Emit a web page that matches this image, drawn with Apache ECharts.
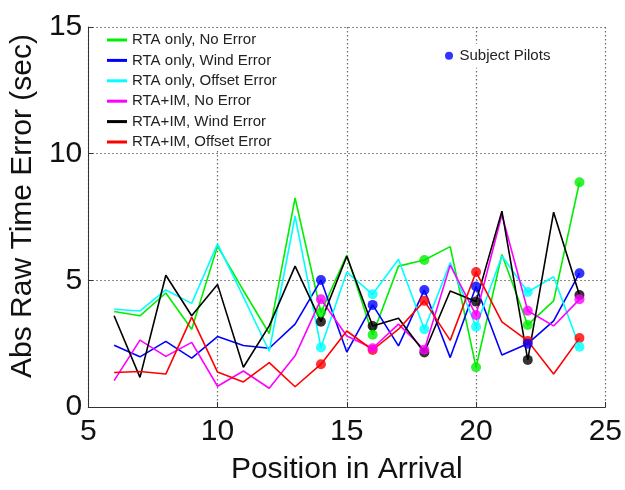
<!DOCTYPE html>
<html>
<head>
<meta charset="utf-8">
<script src="https://cdn.jsdelivr.net/npm/echarts@6/dist/echarts.min.js"></script>
<style>
html,body{margin:0;padding:0;background:#fff;}
#chart{width:625px;height:490px;}
</style>
</head>
<body>
<div id="chart"></div>
<script>
// Positions in arrival (x values)
var positions = [6, 7, 8, 9, 10, 11, 12, 13, 14, 15, 16, 17, 18, 19, 20, 21, 22, 23, 24];
// Positions flown by subject pilots (marked with dots)
var pilotPositions = [14, 16, 18, 20, 22, 24];

var seriesNames = [
  'RTA only, No Error',
  'RTA only, Wind Error',
  'RTA only, Offset Error',
  'RTA+IM, No Error',
  'RTA+IM, Wind Error',
  'RTA+IM, Offset Error'
];

var rtaNoError     = [3.77, 3.6, 4.5, 3.07, 6.35, 4.6, 2.9, 8.25, 3.73, 6.0, 2.85, 5.56, 5.8, 6.33, 1.57, 6.02, 3.24, 4.19, 8.87];
var rtaWindError   = [2.44, 1.98, 2.59, 1.93, 2.78, 2.43, 2.32, 3.27, 5.01, 2.17, 4.03, 2.41, 4.62, 1.95, 4.76, 2.05, 2.5, 3.4, 5.28];
var rtaOffsetError = [3.86, 3.79, 4.62, 4.09, 6.44, 4.35, 2.2, 7.53, 2.35, 5.32, 4.45, 5.83, 3.07, 5.7, 3.17, 5.96, 4.54, 5.14, 2.38];
var imNoError      = [1.04, 2.64, 2.0, 2.55, 0.82, 1.42, 0.74, 2.02, 4.25, 2.8, 2.32, 3.27, 2.26, 5.6, 3.63, 7.6, 3.8, 3.2, 4.25];
var imWindError    = [3.6, 1.17, 5.2, 3.6, 4.84, 1.57, 3.2, 5.56, 3.37, 5.95, 3.2, 3.5, 2.15, 4.58, 4.16, 7.73, 1.86, 7.69, 4.42];
var imOffsetError  = [1.36, 1.4, 1.3, 3.55, 1.38, 0.99, 1.75, 0.8, 1.69, 3.0, 2.25, 3.07, 4.19, 2.63, 5.33, 3.36, 2.61, 1.3, 2.72];

var xTicks = [5, 10, 15, 20, 25];
var yTicks = [0, 5, 10, 15];

var allValues = [rtaNoError, rtaWindError, rtaOffsetError, imNoError, imWindError, imOffsetError];
var colors = ['#00ee00', '#0000ff', '#00ffff', '#ff00ff', '#000000', '#ff0000'];
var dotOrder = [5, 4, 3, 0, 1, 2];

var series = [];
allValues.forEach(function (vals, i) {
  series.push({
    name: seriesNames[i],
    type: 'line',
    data: positions.map(function (x, k) { return [x, vals[k]]; }),
    showSymbol: false,
    symbol: 'none',
    color: colors[i],
    lineStyle: { color: colors[i], width: 1.6 },
    silent: true,
    z: 2
  });
});
dotOrder.forEach(function (i, n) {
  var vals = allValues[i];
  series.push({
    name: seriesNames[i],
    type: 'scatter',
    data: pilotPositions.map(function (x) { return [x, vals[positions.indexOf(x)]]; }),
    symbol: 'circle',
    symbolSize: 10,
    itemStyle: { color: colors[i] },
    silent: true,
    z: 3 + n
  });
});
series.push({
  name: 'Subject Pilots',
  type: 'scatter',
  data: [],
  itemStyle: { color: '#0000ff' }
});

var fontMain = 'Liberation Sans, Arial, sans-serif';
var gridLine = { show: true, lineStyle: { color: '#666', width: 1.2, type: [1.5, 2.5] } };

var chart = echarts.init(document.getElementById('chart'), null, { renderer: 'canvas' });
chart.setOption({
  backgroundColor: '#ffffff',
  animation: false,
  grid: { left: 83, right: 17, top: 27, bottom: 82, containLabel: false },
  legend: [{
    orient: 'vertical',
    left: 102,
    top: 28,
    padding: [4, 6, 1, 5],
    backgroundColor: '#ffffff',
    itemWidth: 20,
    itemHeight: 3,
    itemGap: 4.4,
    icon: 'rect',
    selectedMode: false,
    data: seriesNames,
    textStyle: { fontFamily: fontMain, fontSize: 15, color: '#222', lineHeight: 16 }
  }, {
    orient: 'vertical',
    left: 441,
    top: 43.7,
    padding: [4, 8, 4, 4],
    backgroundColor: '#ffffff',
    itemWidth: 11,
    itemHeight: 8,
    icon: 'circle',
    selectedMode: false,
    data: ['Subject Pilots'],
    textStyle: { fontFamily: fontMain, fontSize: 15, color: '#222', lineHeight: 16 }
  }],
  xAxis: {
    type: 'value',
    min: xTicks[0],
    max: xTicks[xTicks.length - 1],
    interval: xTicks[1] - xTicks[0],
    name: 'Position in Arrival',
    nameLocation: 'middle',
    nameGap: 48,
    nameTextStyle: { fontFamily: fontMain, fontSize: 30, color: '#111' },
    axisLine: { show: true, onZero: false, lineStyle: { color: '#333', width: 1 } },
    axisTick: { show: true, inside: true, length: 5, lineStyle: { color: '#333' } },
    axisLabel: { fontFamily: fontMain, fontSize: 30, color: '#111', margin: 10 },
    splitLine: gridLine
  },
  yAxis: {
    type: 'value',
    min: yTicks[0],
    max: yTicks[yTicks.length - 1],
    interval: yTicks[1] - yTicks[0],
    name: 'Abs Raw Time Error (sec)',
    nameLocation: 'middle',
    nameGap: 50,
    nameTextStyle: { fontFamily: fontMain, fontSize: 30, color: '#111', padding: [0, 0, 0, 22] },
    axisLine: { show: true, onZero: false, lineStyle: { color: '#333', width: 1 } },
    axisTick: { show: true, inside: true, length: 5, lineStyle: { color: '#333' } },
    axisLabel: { fontFamily: fontMain, fontSize: 30, color: '#111', margin: 6 },
    splitLine: gridLine
  },
  series: series
});
</script>
</body>
</html>
